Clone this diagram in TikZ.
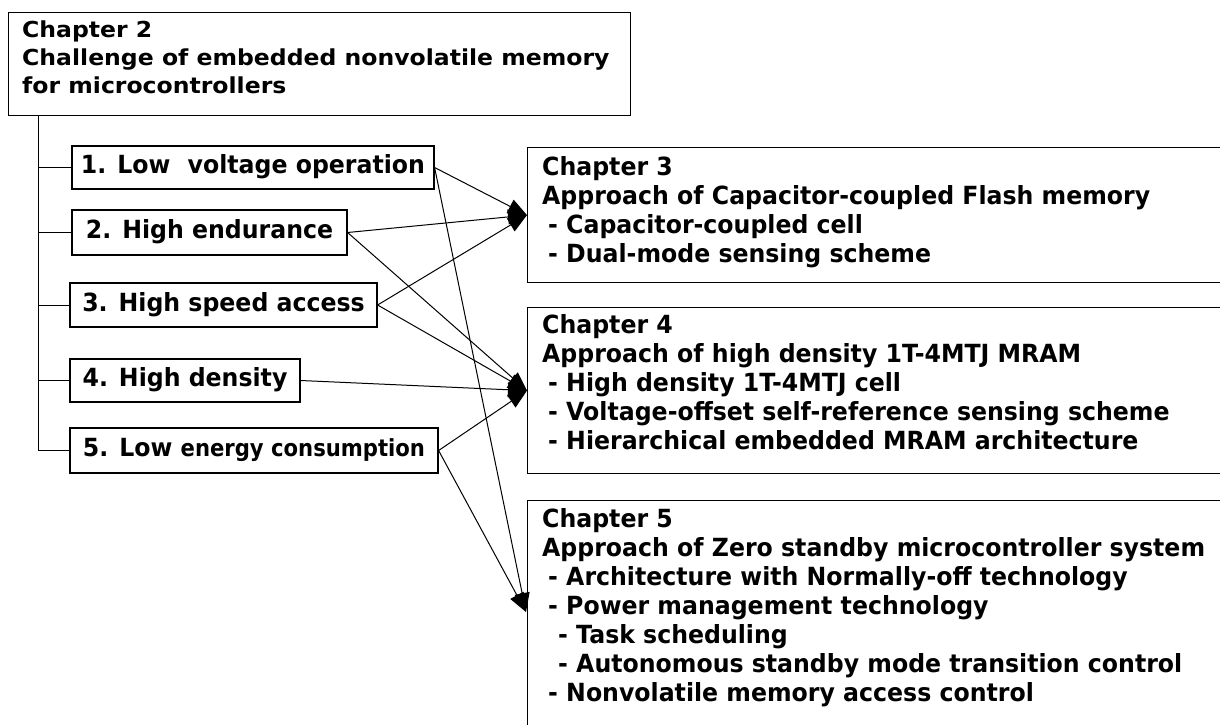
\documentclass[tikz,border=0pt]{standalone}
\usepackage{fontspec}
\setmainfont{DejaVu Sans}
\newfontfamily\headtype{DejaVu Sans}[FakeStretch=1.07]
\newfontfamily\itemtype{DejaVu Sans}[FakeStretch=0.945]
\newfontfamily\smalltype{DejaVu Sans}[FakeStretch=0.9]
\newfontfamily\chaptype{DejaVu Sans}[FakeStretch=0.945]
\usetikzlibrary{arrows.meta,calc}

\tikzset{
  frame/.style={draw, line width=1.2pt, inner sep=0pt},
  itembox/.style={draw, line width=1.2pt, inner sep=0pt,
    font={\itemtype\bfseries\fontsize{25}{27}\selectfont},
    text height=18pt, text depth=6pt},
  headtext/.style={anchor=north west, inner sep=0pt, align=left,
    font={\headtype\bfseries\fontsize{22}{28}\selectfont\lineskiplimit=-100pt}},
  chaptext/.style={anchor=north west, inner sep=0pt, align=left,
    font={\chaptype\bfseries\fontsize{25}{29}\selectfont\lineskiplimit=-100pt}},
  tie/.style={line width=1pt},
  link/.style={line width=1pt, -{Triangle[length=19pt,width=15pt]}}
}

\begin{document}
\begin{tikzpicture}[x=1pt,y=-1pt]
\useasboundingbox (0,0) rectangle (1220,725);
\clip (0,0) rectangle (1220,725);

% Chapter 2 heading box
\node[frame, anchor=north west, minimum width=622pt, minimum height=103pt] (ch2) at (8,12) {};
\node[headtext] (ch2t) at (22,19)
  {\rule{0pt}{18pt}Chapter 2\\Challenge of embedded nonvolatile memory\\for microcontrollers};

% the five requirements
\node[itembox, minimum width=362pt, minimum height=43pt] (b1) at (253,167.5) {1. Low\hspace{9pt} voltage operation};
\node[itembox, minimum width=275pt, minimum height=45pt] (b2) at (209.5,232.5) {2. High endurance};
\node[itembox, minimum width=307pt, minimum height=44pt] (b3) at (223.5,305) {3. High speed access};
\node[itembox, minimum width=230pt, minimum height=43pt] (b4) at (185,380.5) {4. High density};
\node[itembox, minimum width=368pt, minimum height=45pt] (b5) at (254,450.5)
  {5. Low {\smalltype\fontsize{23.5}{24}\selectfont energy consumption}};

% tree lines from the heading box
\coordinate (trunk) at ($(ch2.south west)+(30,0)$);
\draw[tie] (trunk) |- (b5.west);
\foreach \b in {b1,b2,b3,b4} \draw[tie] (trunk |- \b.west) -- (\b.west);

% chapter boxes (open to the right)
\node[frame, anchor=north west, minimum width=720pt, minimum height=135pt] (ch3) at (527,147) {};
\node[frame, anchor=north west, minimum width=720pt, minimum height=166pt] (ch4) at (527,307) {};
\node[frame, anchor=north west, minimum width=720pt, minimum height=260pt] (ch5) at (527,500) {};

\node[chaptext] (ch3t) at (542,155)
  {\rule{0pt}{20pt}Chapter 3\\
   Approach of Capacitor-coupled Flash memory\\
   \hspace*{6pt}- Capacitor-coupled cell\\
   \hspace*{6pt}- Dual-mode sensing scheme};
\node[chaptext] (ch4t) at (542,313)
  {\rule{0pt}{20pt}Chapter 4\\
   Approach of high density 1T-4MTJ MRAM\\
   \hspace*{6pt}- High density 1T-4MTJ cell\\
   \hspace*{6pt}- Voltage-offset self-reference sensing scheme\\
   \hspace*{6pt}- Hierarchical embedded MRAM architecture};
\node[chaptext] (ch5t) at (542,507)
  {\rule{0pt}{20pt}Chapter 5\\
   Approach of Zero standby microcontroller system\\
   \hspace*{6pt}- Architecture with Normally-off technology\\
   \hspace*{6pt}- Power management technology\\
   \hspace*{16pt}- Task scheduling\\
   \hspace*{16pt}- Autonomous standby mode transition control\\
   \hspace*{6pt}- Nonvolatile memory access control};

\coordinate (t5) at ($(ch5.north west)+(-1,112)$);

% requirement -> chapter links
\draw[link] (b1.east) -- (ch3.west);
\draw[link] (b2.east) -- (ch3.west);
\draw[link] (b3.east) -- (ch3.west);
\draw[link] (b2.east) -- (ch4.west);
\draw[link] (b3.east) -- (ch4.west);
\draw[link] (b4.east) -- (ch4.west);
\draw[link] (b5.east) -- (ch4.west);
\draw[link] (b1.east) -- (t5);
\draw[link] (b5.east) -- (t5);
\end{tikzpicture}
\end{document}
